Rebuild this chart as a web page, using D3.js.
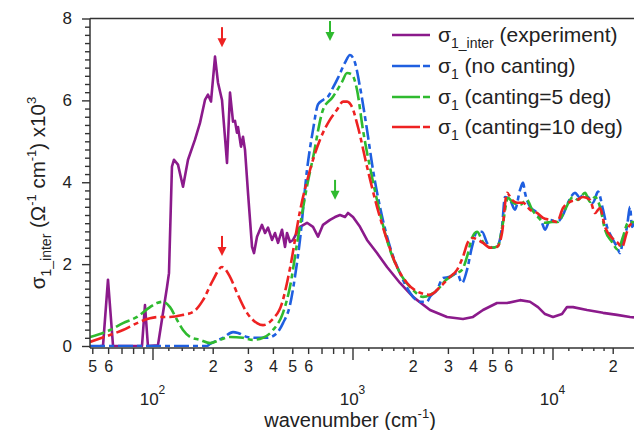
<!DOCTYPE html>
<html><head><meta charset="utf-8">
<script src="https://cdn.jsdelivr.net/npm/d3@7"></script>
<style>body{margin:0;background:#fff}svg{display:block}text{font-family:"Liberation Sans",Arial,Helvetica,sans-serif;fill:#222}</style>
</head><body><svg id="c" width="634" height="430"></svg>
<script>
// ---- data: [wavenumber (cm^-1), sigma (x10^3 Ohm^-1 cm^-1)] ----
const experiment = [[55,0],[56.6,0.02],[59.9,1.62],[63.5,0],[88.6,0],[91.7,1.0],[94.9,0],[106.5,0.02],[118.2,1.44],[120.9,1.78],[125.1,4.38],[128.1,4.55],[134.1,4.43],[142.1,3.89],[150.5,4.55],[163.1,5.04],[172.8,5.45],[183.0,6.01],[189.4,6.14],[196.1,5.97],[205.4,7.07],[212.6,6.43],[222.6,6.01],[235.8,4.47],[244.1,6.19],[252.7,5.48],[258.5,5.50],[264.5,5.21],[267.6,5.35],[277.0,4.87],[283.5,5.11],[290.1,4.79],[300.3,3.74],[314.5,2.42],[321.8,2.27],[333.1,2.67],[352.8,2.96],[365.2,2.76],[378.1,2.89],[395.9,2.59],[409.9,2.76],[424.3,2.52],[444.3,2.84],[459.9,2.42],[470.5,2.76],[487,2.54],[504.2,2.59],[546.5,2.91],[592.3,3.01],[634.7,2.91],[672.3,2.67],[712.2,2.96],[771.8,3.08],[817.6,3.15],[866,3.20],[917.4,3.15],[949.6,3.25],[1006,3.15],[1090,2.91],[1182,2.59],[1326,2.27],[1488,1.93],[1728,1.54],[2007,1.20],[2441,0.88],[2969,0.71],[3568,0.66],[4004,0.71],[4493,0.88],[5280,1.05],[5923,1.05],[6879,1.12],[7718,1.08],[8462,0.95],[9173,0.78],[10058,0.71],[11154,0.78],[11817,0.95],[12664,0.95],[14878,0.88],[17886,0.81],[21018,0.76],[24409,0.71],[25556,0.70]];
const noCanting = [[48.7,0],[187,0],[193.9,0.05],[225.2,0.2],[252.7,0.34],[267.6,0.32],[296.8,0.22],[333.1,0.2],[373.8,0.2],[419.4,0.32],[449.3,0.56],[487,1.0],[516,1.7],[546.5,2.6],[592.3,4.3],[634.7,5.28],[672.3,5.9],[712.2,6.01],[754.2,6.09],[798.9,6.31],[846.3,6.55],[917.4,6.92],[971.6,7.11],[1029,6.92],[1090,6.33],[1182,5.28],[1266,4.30],[1372,3.40],[1540,2.42],[1728,1.78],[1939,1.30],[2176,1.08],[2358,1.08],[2441,1.20],[2645,1.37],[2835,1.66],[3073,1.69],[3331,1.78],[3528,1.54],[3737,1.86],[3958,2.42],[4194,2.79],[4443,2.79],[4705,2.52],[5041,2.40],[5340,2.47],[5592,2.91],[5789,3.64],[6131,3.57],[6494,3.33],[6879,3.81],[7122,3.99],[7288,3.74],[7718,3.40],[8365,3.25],[8861,3.01],[9173,2.84],[9716,3.08],[10531,3.03],[11285,3.20],[11955,3.50],[12959,3.74],[13725,3.62],[14212,3.69],[15049,3.64],[15944,3.50],[16888,3.77],[17886,3.33],[18728,2.91],[19839,2.64],[21018,2.42],[21752,2.27],[22515,2.59],[23578,2.91],[24409,3.40],[24974,2.91],[25556,3.0]];
const canting5 = [[48.7,0.22],[61.3,0.39],[71.2,0.56],[83.7,0.71],[97.2,0.95],[105.3,1.05],[112.9,1.08],[122.3,0.95],[132.6,0.64],[142.1,0.39],[154,0.22],[172.8,0.15],[193.9,0.07],[217.6,0.15],[244.1,0.22],[283.5,0.20],[318,0.15],[356.9,0.20],[400.5,0.39],[449.3,0.81],[487,1.45],[528,2.5],[592.3,3.9],[634.7,4.6],[712.2,5.77],[798.9,6.09],[886.2,6.45],[938.7,6.67],[994.3,6.63],[1053,6.26],[1128,5.28],[1252,4.13],[1372,3.25],[1540,2.35],[1728,1.78],[2007,1.37],[2252,1.20],[2441,1.25],[2738,1.44],[2835,1.54],[3181,1.74],[3528,1.86],[3737,2.18],[3958,2.64],[4194,2.79],[4493,2.54],[4983,2.40],[5340,2.44],[5656,3.01],[5991,3.62],[6346,3.50],[6879,3.45],[7457,3.57],[7898,3.33],[8462,3.15],[9173,3.01],[9943,3.03],[10653,3.03],[11548,3.33],[12664,3.64],[13414,3.57],[14540,3.74],[15399,3.52],[16315,3.64],[17278,3.40],[18302,2.84],[19839,2.54],[21262,2.35],[22515,2.67],[23850,3.01],[25556,3.03]];
const canting10 = [[48.7,0.10],[61.3,0.27],[71.2,0.39],[83.7,0.56],[97.2,0.68],[109,0.71],[122.3,0.71],[142.1,0.76],[159.4,0.83],[178.9,1.12],[200.7,1.61],[222.6,1.93],[244.1,1.69],[264.5,1.30],[296.8,0.81],[333.1,0.56],[356.9,0.51],[395.9,0.64],[444.3,1.05],[487,1.9],[546.5,3.3],[613.2,4.30],[687.9,5.04],[771.8,5.53],[836.6,5.77],[896.5,5.97],[938.7,5.97],[994.3,5.84],[1065,5.35],[1182,4.38],[1326,3.40],[1488,2.59],[1669,1.93],[1873,1.54],[2176,1.30],[2441,1.25],[2738,1.44],[3073,1.69],[3331,1.86],[3568,2.18],[3781,2.54],[4004,2.64],[4243,2.59],[4493,2.52],[4870,2.40],[5280,2.42],[5592,2.76],[5923,3.74],[6274,3.57],[6646,3.50],[7122,3.50],[7718,3.33],[8365,3.25],[8963,3.13],[9716,3.08],[10531,3.03],[11285,3.37],[12232,3.52],[13260,3.57],[14212,3.64],[15399,3.57],[16315,3.25],[17278,3.37],[18302,2.91],[19839,2.64],[21018,2.54],[22258,2.42],[23578,2.79],[24409,2.96],[25556,3.01]];

const seriesNames = ["1_inter|(experiment)","1|(no canting)","1|(canting=5 deg)","1|(canting=10 deg)"];
const xMajorTicks = [100, 1000, 10000];
const xDecadeLabels = ["2","3","4"];
const xLabeledMinor = [50,60,200,300,400,500,600,2000,3000,4000,5000,6000,20000];
const xMinorLabels = ["5","6","2","3","4","5","6","2","3","4","5","6","2"];
const xUnlabeledMinor = [70,80,90,700,800,900,7000,8000,9000];
const xSubMinor = [120,140,160,180,1200,1400,1600,1800,12000,14000,16000,18000];
const yMajorTicks = [0,2,4,6,8];
const yMinorTicks = d3.range(0, 8.01, 0.2).filter(v => Math.abs(v/2 - Math.round(v/2)) > 1e-6);
// arrows: wavenumber, tip value
const arrowWn = [222.6, 222.6, 772, 818];
const arrowTip = [7.3, 2.2, 7.45, 3.57];
const arrowKind = ["red","red","green","green"];

// ---- drawing ----
const colors = {purple:"#8b1a8b", blue:"#1f5fe0", green:"#2fba2f", red:"#ee2222"};
const svg = d3.select("#c");
const L=90, R=634, T=18.5, B=346, AX=348;
const x = d3.scaleLog().domain([48.7, 25556]).range([L, R]);
const y = d3.scaleLinear().domain([0,8]).range([B, T]);

svg.append("defs").append("clipPath").attr("id","clip").append("rect")
  .attr("x",L).attr("y",T-2).attr("width",R-L).attr("height",AX-T+1);

const plot = svg.append("g").attr("clip-path","url(#clip)");
const lineL = d3.line().x(d=>x(d[0])).y(d=>y(d[1]));
const lineS = d3.line().x(d=>x(d[0])).y(d=>y(d[1])).curve(d3.curveMonotoneX);
const dash = "15,4,5,4";
const series = [
  {data:experiment, color:colors.purple, dash:null, gen:lineL},
  {data:noCanting, color:colors.blue, dash:dash, gen:lineS},
  {data:canting5, color:colors.green, dash:dash, gen:lineS},
  {data:canting10, color:colors.red, dash:dash, gen:lineS}
];
series.forEach(s=>{
  plot.append("path").attr("d", s.gen(s.data)).attr("fill","none")
    .attr("stroke", s.color).attr("stroke-width",2.6)
    .attr("stroke-linejoin","round")
    .attr("stroke-dasharray", s.dash);
});

// frame
const fr = svg.append("g").attr("stroke","#333").attr("stroke-width",1.5).attr("fill","none");
fr.append("line").attr("x1",L).attr("x2",R).attr("y1",T).attr("y2",T);
fr.append("line").attr("x1",L).attr("x2",L).attr("y1",T).attr("y2",AX);
fr.append("line").attr("x1",L).attr("x2",R).attr("y1",AX).attr("y2",AX);

// x axis ticks
function xTicks(vals, size){
  const g = svg.append("g").attr("transform",`translate(0,${AX})`)
    .call(d3.axisBottom(x).tickValues(vals).tickSize(size).tickFormat(""));
  g.select(".domain").remove();
  g.selectAll(".tick line").attr("stroke","#333").attr("stroke-width",1.4);
  return g;
}
xTicks(xMajorTicks, 12);
xTicks(xUnlabeledMinor, 6);
xTicks(xSubMinor, 3);
const gl = xTicks(xLabeledMinor, 6);
gl.selectAll(".tick").append("text").attr("text-anchor","middle")
  .attr("y",24).attr("font-size",16).style("fill","#222")
  .text((d,i)=>xMinorLabels[i]);
xMajorTicks.forEach((v,i)=>{
  const t = svg.append("text").attr("x",x(v)).attr("y",405).attr("text-anchor","middle").attr("font-size",17);
  t.append("tspan").text("10");
  t.append("tspan").attr("dy",-11).attr("font-size",12).text(xDecadeLabels[i]);
});

// y axis
function yTicks(vals, size, labels){
  const g = svg.append("g").attr("transform",`translate(${L},0)`)
    .call(d3.axisLeft(y).tickValues(vals).tickSize(size).tickPadding(10)
      .tickFormat(labels ? d3.format("d") : ""));
  g.select(".domain").remove();
  g.selectAll(".tick line").attr("stroke","#333").attr("stroke-width",1.4);
  g.selectAll(".tick text").attr("font-size",17).style("fill","#222").attr("font-family",'"Liberation Sans",Arial,sans-serif');
}
yTicks(yMajorTicks, 8, true);
yTicks(yMinorTicks, 5, false);

// axis titles
const xt = svg.append("text").attr("x",350).attr("y",427).attr("text-anchor","middle").attr("font-size",20);
xt.append("tspan").text("wavenumber (cm");
xt.append("tspan").attr("dy",-9).attr("font-size",13).text("-1");
xt.append("tspan").attr("dy",9).text(")");

const yt = svg.append("text").attr("transform","translate(45,193) rotate(-90)").attr("text-anchor","middle").attr("font-size",20.5);
yt.append("tspan").text("σ");
yt.append("tspan").attr("dy",6).attr("font-size",14).text("1_inter");
yt.append("tspan").attr("dy",-6).text(" (Ω");
yt.append("tspan").attr("dy",-9).attr("font-size",13).text("-1");
yt.append("tspan").attr("dy",9).text(" cm");
yt.append("tspan").attr("dy",-9).attr("font-size",13).text("-1");
yt.append("tspan").attr("dy",9).text(") x10");
yt.append("tspan").attr("dy",-9).attr("font-size",13).text("3");

// arrows
arrowWn.forEach((w,i)=>{
  const c = colors[arrowKind[i]];
  const ax = x(w), ay = y(arrowTip[i]);
  svg.append("line").attr("x1",ax).attr("x2",ax).attr("y1",ay-20).attr("y2",ay-7)
    .attr("stroke",c).attr("stroke-width",2);
  svg.append("path").attr("d",`M${ax-4.5},${ay-9}L${ax+4.5},${ay-9}L${ax},${ay}Z`).attr("fill",c);
});

// legend
const legColors = [colors.purple, colors.blue, colors.green, colors.red];
const legY = [35, 66, 97, 127];
seriesNames.forEach((n,i)=>{
  const yy = legY[i];
  const [sub, rest] = n.split("|");
  svg.append("line").attr("x1",392).attr("x2",430).attr("y1",yy).attr("y2",yy)
    .attr("stroke",legColors[i]).attr("stroke-width",2.6)
    .attr("stroke-dasharray", i===0 ? null : "28,3,7");
  const t = svg.append("text").attr("x",438).attr("y",yy+7).attr("font-size",21);
  t.append("tspan").text("σ");
  t.append("tspan").attr("dy",6).attr("font-size",14).text(sub);
  t.append("tspan").attr("dy",-6).text(" " + rest);
});
</script></body></html>
